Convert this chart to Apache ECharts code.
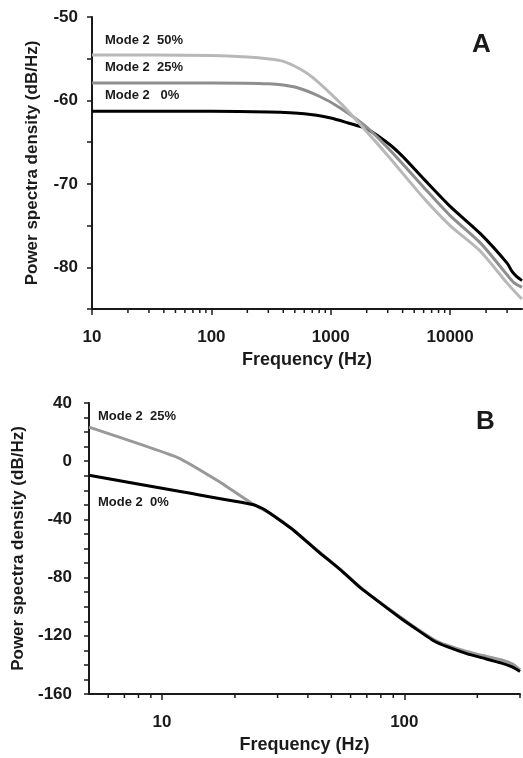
<!DOCTYPE html>
<html>
<head>
<meta charset="utf-8">
<script src="https://cdn.jsdelivr.net/npm/echarts@6/dist/echarts.min.js"></script>
<style>
html,body{margin:0;padding:0;background:#fff;}
#c{width:523px;height:758px;}
</style>
</head>
<body>
<div id="c"></div>
<script>
// ---------- Panel A data ----------
const aFreq0 = [10, 100, 300, 600, 1000, 1400, 2000, 3000, 4000, 6000, 10000, 18000, 30000, 33000, 36000, 40000];
const aMode0 = [-61.3, -61.3, -61.4, -61.6, -62.1, -62.7, -63.4, -65.1, -66.7, -69.4, -72.7, -76.0, -79.5, -80.5, -81.1, -81.6];
const aFreq25 = [10, 100, 300, 500, 800, 1200, 2000, 3300, 6000, 10000, 18000, 30000, 34000, 40000];
const aMode25 = [-57.9, -57.9, -58.0, -58.4, -59.5, -60.9, -63.2, -66.3, -70.4, -73.8, -77.1, -80.9, -81.8, -82.4];
const aFreq50 = [10, 100, 200, 370, 500, 700, 1200, 1850, 3000, 6000, 10000, 18000, 30000, 38000, 40000];
const aMode50 = [-54.55, -54.6, -54.8, -55.2, -55.9, -57.2, -60.3, -63.2, -66.6, -71.7, -75.0, -78.1, -81.9, -83.5, -83.8];
const aMinorTicks = [20,30,40,50,60,70,80,90,200,300,400,500,600,700,800,900,2000,3000,4000,5000,6000,7000,8000,9000,20000,30000];
const aLabels = ['Mode 2  50%', 'Mode 2  25%', 'Mode 2   0%'];

// ---------- Panel B data ----------
const bFreq0 = [5, 12.4, 23.6, 26, 28, 35, 43.6, 55, 65.8, 80, 96, 110, 132, 150, 182, 210, 250, 280, 300];
const bMode0 = [-9.7, -21.4, -29.7, -32.5, -36, -47.6, -61.4, -75.2, -86.9, -97.7, -107.6, -114.5, -123.4, -127.5, -132.4, -135.2, -138.6, -141.5, -144.5];
const bFreq25 = [5, 11.6, 17, 24, 28, 35, 43.6, 55, 65.8, 80, 96, 110, 132, 150, 182, 210, 250, 280, 300];
const bMode25 = [23.4, 2.5, -13.5, -30, -36, -47.5, -61, -75, -86.5, -97.5, -107, -114, -122.5, -126.5, -131, -133.5, -136.5, -139.5, -143.5];
const bMinorTicks = [6,7,8,9,20,30,40,50,60,70,80,90,200,300];
const bLabels = ['Mode 2  25%', 'Mode 2  0%'];

const zip = (xs, ys) => xs.map((x, i) => [x, ys[i]]);
const FONT = '"Liberation Sans", Arial, sans-serif';
const INK = '#1a1a1a';

function minorTickSeries(ticks, xi, yMin) {
  return {
    type: 'custom', xAxisIndex: xi, yAxisIndex: xi, silent: true, clip: false, z: 5,
    data: ticks.map(f => [f, yMin]),
    renderItem: (params, api) => {
      const p = api.coord([api.value(0), api.value(1)]);
      return { type: 'line', shape: { x1: p[0], y1: p[1], x2: p[0], y2: p[1] + 4 },
               style: { stroke: INK, lineWidth: 1.5 } };
    }
  };
}

const isDecade = v => Math.abs(Math.log10(v) - Math.round(Math.log10(v))) < 1e-6;

function xAxisCfg(gi, min, max) {
  return {
    type: 'log', logBase: 10, gridIndex: gi, min: min, max: max,
    name: 'Frequency (Hz)', nameLocation: 'middle', nameGap: 42,
    nameTextStyle: { fontFamily: FONT, fontWeight: 'bold', fontSize: 18, color: INK },
    axisLine: { onZero: false, lineStyle: { color: INK, width: 2 } },
    axisTick: { length: 6, lineStyle: { color: INK, width: 1.5 } },
    axisLabel: { margin: 20, fontFamily: FONT, fontWeight: 'bold', fontSize: 17, color: INK,
                 showMinLabel: isDecade(min), showMaxLabel: false,
                 formatter: v => isDecade(v) ? String(Math.round(v)) : '' },
    splitLine: { show: false }, minorTick: { show: false }
  };
}

function yAxisCfg(gi, min, max, interval, labelEvery, gap, margin) {
  return {
    type: 'value', gridIndex: gi, min: min, max: max, interval: interval,
    name: 'Power spectra density (dB/Hz)', nameLocation: 'middle', nameGap: gap, nameRotate: 90,
    nameTextStyle: { fontFamily: FONT, fontWeight: 'bold', fontSize: 17, color: INK },
    axisLine: { show: true, onZero: false, lineStyle: { color: INK, width: 2 } },
    axisTick: { show: true, length: 5, lineStyle: { color: INK, width: 1.5 } },
    axisLabel: { margin: margin, fontFamily: FONT, fontWeight: 'bold', fontSize: 17, color: INK,
                 formatter: v => (Math.round(v) % labelEvery === 0) ? String(v) : '' },
    splitLine: { show: false }
  };
}

const lineS = (xi, data, color, smooth) => ({
  type: 'line', xAxisIndex: xi, yAxisIndex: xi, data: data, showSymbol: false, symbol: 'none',
  smooth: smooth, lineStyle: { color: color, width: 3 }, silent: true, z: 3
});

const txt = (x, y, t, size) => ({
  type: 'text', left: x, top: y,
  style: { text: t, fontFamily: FONT, fontWeight: 'bold', fontSize: size, fill: INK }
});

const chart = echarts.init(document.getElementById('c'), null, { renderer: 'canvas' });
chart.setOption({
  animation: false,
  backgroundColor: '#fff',
  grid: [
    { left: 92, top: 17, width: 430, height: 292 },
    { left: 89, top: 403, width: 431, height: 291 }
  ],
  xAxis: [xAxisCfg(0, 10, 40000), xAxisCfg(1, 5, 300)],
  yAxis: [yAxisCfg(0, -85, -50, 5, 10, 51, 14), yAxisCfg(1, -160, 40, 10, 40, 54, 17)],
  series: [
    lineS(0, zip(aFreq0, aMode0), '#000000', 0.25),
    lineS(0, zip(aFreq25, aMode25), '#8e8e8e', 0.25),
    lineS(0, zip(aFreq50, aMode50), '#b8b8b8', 0.25),
    minorTickSeries(aMinorTicks, 0, -85),
    lineS(1, zip(bFreq25, bMode25), '#999999', 0.15),
    lineS(1, zip(bFreq0, bMode0), '#000000', 0.15),
    minorTickSeries(bMinorTicks, 1, -160)
  ],
  graphic: [
    txt(105, 34, aLabels[0], 13),
    txt(105, 61, aLabels[1], 13),
    txt(105, 89, aLabels[2], 13),
    txt(472, 32, 'A', 26),
    txt(98, 410, bLabels[0], 13),
    txt(98, 496, bLabels[1], 13),
    txt(476, 409, 'B', 26)
  ]
});
</script>
</body>
</html>
